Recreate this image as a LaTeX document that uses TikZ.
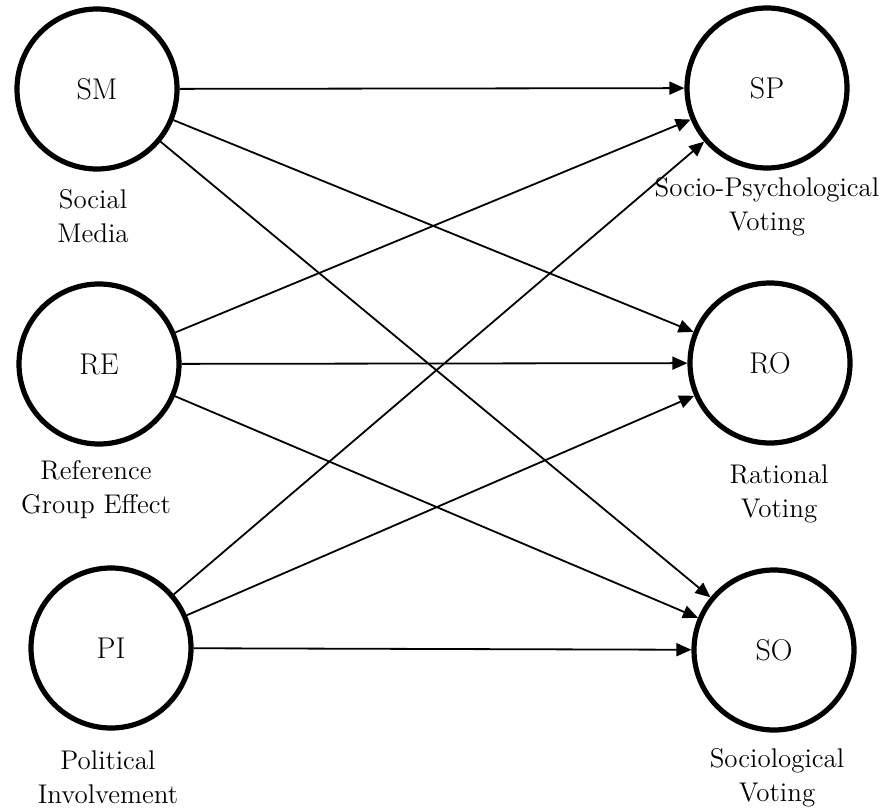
\documentclass[tikz,border=0pt]{standalone}
\usetikzlibrary{arrows.meta}
\begin{document}
\begin{tikzpicture}[x=0.5pt, y=-0.5pt,
    construct/.style={circle, draw=black, line width=2.6pt, minimum size=80pt, inner sep=0pt, font=\fontsize{15}{18}\selectfont},
    lbl/.style={align=center, font=\fontsize{13.5}{17}\selectfont},
    arrow/.style={-{Triangle[length=7.5pt, width=6.5pt]}, line width=0.9pt, black}
]
\useasboundingbox (0,0) rectangle (887,812);

% Variables independantes (colonne de gauche)
\node[construct] (sm) at (97,89) {SM};
\node[construct] (re) at (99,364) {RE};
\node[construct] (pi) at (111,648) {PI};

% Variables dependantes (colonne de droite)
\node[construct] (sp) at (767,88) {SP};
\node[construct] (ro) at (770,363) {RO};
\node[construct] (so) at (774,650) {SO};

% Libelles sous les cercles
\node[lbl] (smtxt) at (93,216) {Social\\Media};
\node[lbl] (retxt) at (96,490) {Reference\\Group Effect};
\node[lbl] (pitxt) at (108,777) {Political\\Involvement};
\node[lbl] (sptxt) at (767,207) {Socio-Psychological\\Voting};
\node[lbl] (rotxt) at (779,494) {Rational\\Voting};
\node[lbl] (sotxt) at (777,778) {Sociological\\Voting};

% Fleches de chaque variable vers les trois types de vote
\draw[arrow] (sm) -- (sp);
\draw[arrow] (sm) -- (ro);
\draw[arrow] (sm) -- (so);
\draw[arrow] (re) -- (sp);
\draw[arrow] (re) -- (ro);
\draw[arrow] (re) -- (so);
\draw[arrow] (pi) -- (sp);
\draw[arrow] (pi) -- (ro);
\draw[arrow] (pi) -- (so);

\end{tikzpicture}
\end{document}
